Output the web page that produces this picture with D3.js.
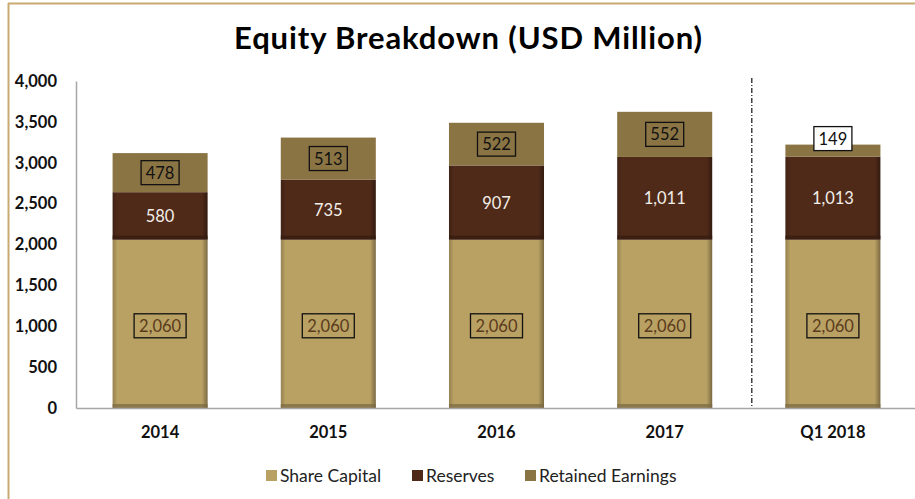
<!DOCTYPE html>
<html>
<head>
<meta charset="utf-8">
<script src="https://cdn.jsdelivr.net/npm/d3@7"></script>
<style>
  body { margin: 0; background: #fff; }
  text { font-family: Lato, "Open Sans", sans-serif; }
</style>
</head>
<body>
<div id="vis"></div>
<script>
var categories = ["2014", "2015", "2016", "2017", "Q1 2018"];
var shareCapital = [2060, 2060, 2060, 2060, 2060];
var reserves = [580, 735, 907, 1011, 1013];
var retainedEarnings = [478, 513, 522, 552, 149];
var yTicks = [0, 500, 1000, 1500, 2000, 2500, 3000, 3500, 4000];
var seriesNames = ["Share Capital", "Reserves", "Retained Earnings"];

var colors = {"Share Capital": "#b9a063", "Reserves": "#4f2a19", "Retained Earnings": "#8b7444"};

var width = 915, height = 499;
var margin = {top: 81, right: -2, bottom: 91, left: 76};

var svg = d3.select("#vis").append("svg")
  .attr("width", width).attr("height", height);

// outer frame
svg.append("line").attr("x1", 8.5).attr("x2", 8.5).attr("y1", 3).attr("y2", height)
  .attr("stroke", "#c9ab72").attr("stroke-width", 2);
svg.append("line").attr("x1", 8).attr("x2", width).attr("y1", 3.5).attr("y2", 3.5)
  .attr("stroke", "#c9ab72").attr("stroke-width", 2);

svg.append("text")
  .attr("x", 468).attr("y", 49)
  .attr("text-anchor", "middle")
  .style("font-size", "31px").style("font-weight", "bold")
  .attr("textLength", 468)
  .text("Equity Breakdown (USD Million)");

var x = d3.scaleBand()
  .domain(categories)
  .range([margin.left, width - margin.right])
  .paddingInner(0.435).paddingOuter(0.2175);

var y = d3.scaleLinear()
  .domain([0, 4000])
  .range([height - margin.bottom, margin.top]);

var defs = svg.append("defs");
seriesNames.forEach(function(name, i) {
  var base = d3.color(colors[name]);
  var g = defs.append("linearGradient").attr("id", "g" + i)
    .attr("x1", 0).attr("x2", 1).attr("y1", 0).attr("y2", 0);
  g.append("stop").attr("offset", "0%").attr("stop-color", base.darker(0.6));
  g.append("stop").attr("offset", "5%").attr("stop-color", base);
  g.append("stop").attr("offset", "94%").attr("stop-color", base);
  g.append("stop").attr("offset", "100%").attr("stop-color", base.darker(1.2));
});

var rows = categories.map(function(c, i) {
  return {cat: c, "Share Capital": shareCapital[i], "Reserves": reserves[i], "Retained Earnings": retainedEarnings[i]};
});
var stacked = d3.stack().keys(seriesNames)(rows);

// axes
var yAxis = svg.append("g")
  .attr("transform", "translate(" + margin.left + ",0)")
  .call(d3.axisLeft(y).tickValues(yTicks).tickSize(0).tickPadding(19).tickFormat(d3.format(",")));
yAxis.select(".domain").attr("stroke", "#a6a6a6").attr("stroke-width", 1.5);
yAxis.selectAll("text").style("font-size", "16.5px").style("font-weight", "bold").attr("fill", "#111");

stacked.forEach(function(layer, si) {
  svg.append("g").selectAll("rect")
    .data(layer).enter().append("rect")
    .attr("x", function(d) { return x(d.data.cat); })
    .attr("width", x.bandwidth())
    .attr("y", function(d) { return y(d[1]); })
    .attr("height", function(d) { return y(d[0]) - y(d[1]); })
    .attr("fill", si === 2 ? colors[layer.key] : "url(#g" + si + ")");
  if (si < 2) {
    // bevel bottom shade
    svg.append("g").selectAll("rect")
      .data(layer).enter().append("rect")
      .attr("x", function(d) { return x(d.data.cat); })
      .attr("width", x.bandwidth())
      .attr("y", function(d) { return y(d[0]) - 4; })
      .attr("height", 4)
      .attr("fill", d3.color(colors[layer.key]).darker(1.2))
      .attr("opacity", 0.7);
  }
});

var xAxis = svg.append("g")
  .attr("transform", "translate(0," + (height - margin.bottom) + ")")
  .call(d3.axisBottom(x).tickSize(0).tickPadding(18));
xAxis.select(".domain").attr("stroke", "#a6a6a6").attr("stroke-width", 1.5);
xAxis.selectAll("text").style("font-size", "16.5px").style("font-weight", "bold").attr("fill", "#111");

// separator before Q1 2018
var sepX = (x("2017") + x.bandwidth() + x("Q1 2018")) / 2 + 3;
svg.append("line")
  .attr("x1", sepX).attr("x2", sepX)
  .attr("y1", y(4000) - 3).attr("y2", y(0))
  .attr("stroke", "#222").attr("stroke-width", 1.3)
  .attr("stroke-dasharray", "5,2,1,2");

// labels
var fmt = d3.format(",");
function boxLabel(cx, cy, txt, color, fill) {
  var w = txt.length > 3 ? 52 : 38;
  svg.append("rect").attr("x", cx - w / 2).attr("y", cy - 12).attr("width", w).attr("height", 24)
    .attr("fill", fill).attr("stroke", "#111").attr("stroke-width", 1.3);
  svg.append("text").attr("x", cx).attr("y", cy + 6).attr("text-anchor", "middle")
    .style("font-size", "16.5px").attr("fill", color).text(txt);
}

stacked[0].forEach(function(d) {
  var cx = x(d.data.cat) + x.bandwidth() / 2;
  boxLabel(cx, (y(d[0]) + y(d[1])) / 2 + 2, fmt(d[1] - d[0]), "#5a3b1c", "none");
});
stacked[1].forEach(function(d) {
  var cx = x(d.data.cat) + x.bandwidth() / 2;
  svg.append("text").attr("x", cx).attr("y", (y(d[0]) + y(d[1])) / 2 + 6)
    .attr("text-anchor", "middle").style("font-size", "16.5px").attr("fill", "#f2eee8")
    .text(fmt(d[1] - d[0]));
});
stacked[2].forEach(function(d) {
  var cx = x(d.data.cat) + x.bandwidth() / 2;
  var v = d[1] - d[0];
  if (v < 300) {
    boxLabel(cx, y(d[1]) - 6, fmt(v), "#111", "#fff");
  } else {
    boxLabel(cx, (y(d[0]) + y(d[1])) / 2, fmt(v), "#111", "none");
  }
});

// legend
var legendX = [266, 412, 525];
var legend = svg.append("g").selectAll("g").data(seriesNames).enter().append("g")
  .attr("transform", function(d, i) { return "translate(" + legendX[i] + ",476)"; });
legend.append("rect").attr("x", 0).attr("y", -6).attr("width", 11).attr("height", 11)
  .attr("fill", function(d) { return colors[d]; });
legend.append("text").attr("x", 14).attr("y", 6)
  .style("font-size", "17.5px").attr("fill", "#222").text(function(d) { return d; });
</script>
</body>
</html>
